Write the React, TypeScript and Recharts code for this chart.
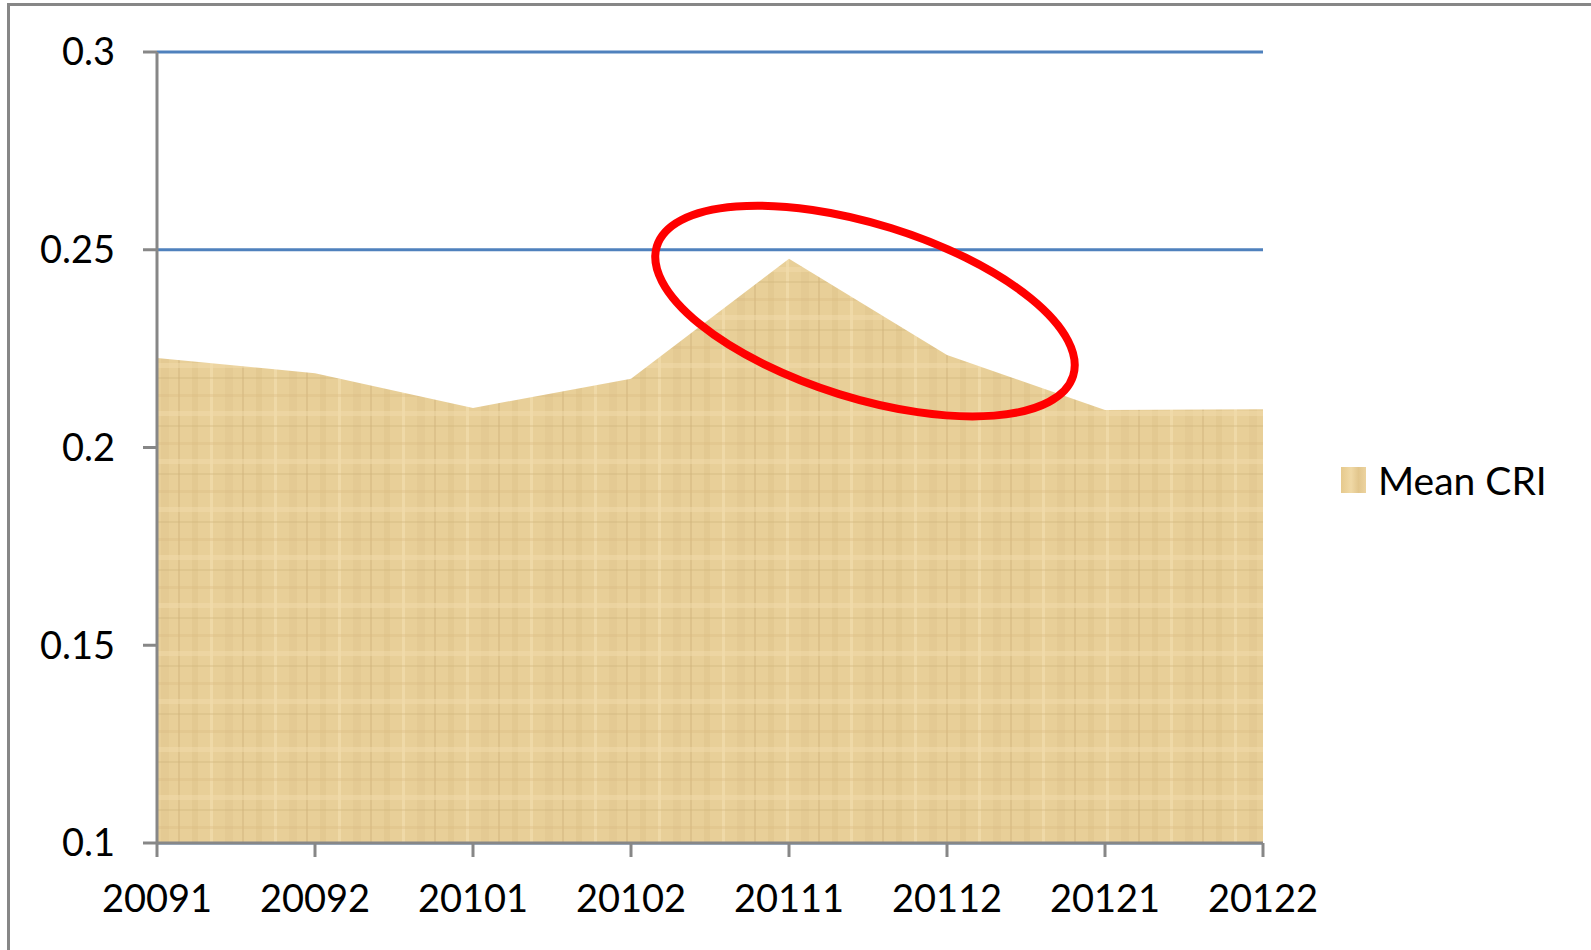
import { AreaChart, Area, XAxis, YAxis, CartesianGrid, ReferenceDot } from 'recharts';

const periods = ['20091', '20092', '20101', '20102', '20111', '20112', '20121', '20122'];
const meanCri = [0.2226, 0.2188, 0.21, 0.2174, 0.2477, 0.2234, 0.2095, 0.2097];
const yTicks = [0.1, 0.15, 0.2, 0.25, 0.3];
const seriesName = 'Mean CRI';

const data = periods.map((period, i) => ({ period, meanCri: meanCri[i] }));

const FONT = 'Lato, "Open Sans", sans-serif';
const AXIS_GRAY = '#878787';
const GRID_BLUE = '#4F81BD';
const PAPYRUS = '#E8CF98';

// highlight ring around the peak, anchored on the 20111 period
function HighlightEllipse(props: { cx?: number; cy?: number }) {
  const { cx = 0, cy = 0 } = props;
  const ex = cx + 76;
  return (
    <ellipse
      cx={ex}
      cy={cy}
      rx={218}
      ry={87}
      transform={`rotate(17.3 ${ex} ${cy})`}
      fill="none"
      stroke="#FF0000"
      strokeWidth={8}
    />
  );
}

export default function App() {
  return (
    <div
      style={{
        position: 'absolute',
        left: 0,
        top: 0,
        width: 1591,
        height: 950,
        overflow: 'hidden',
        background: '#fff',
      }}
    >
      {/* chart frame, only the top and left edges fall inside the picture */}
      <div
        style={{
          position: 'absolute',
          left: 7,
          top: 3,
          width: 1584,
          height: 947,
          borderLeft: `3px solid ${AXIS_GRAY}`,
          borderTop: `3px solid ${AXIS_GRAY}`,
          boxSizing: 'border-box',
        }}
      />
      <div style={{ position: 'absolute', left: 0, top: 0 }}>
        <AreaChart width={1591} height={950} data={data} margin={{ top: 52, right: 328, left: 0, bottom: 0 }}>
          <defs>
            <pattern id="papyrus" width="64" height="48" patternUnits="userSpaceOnUse">
              <rect width="64" height="48" fill={PAPYRUS} />
              <rect x="0" y="0" width="6" height="48" fill="#d9bd82" opacity="0.35" />
              <rect x="18" y="0" width="3" height="48" fill="#f3dfb0" opacity="0.6" />
              <rect x="33" y="0" width="8" height="48" fill="#dcc08a" opacity="0.3" />
              <rect x="50" y="0" width="2" height="48" fill="#cdb078" opacity="0.4" />
              <rect x="0" y="10" width="64" height="3" fill="#d8bb80" opacity="0.35" />
              <rect x="0" y="27" width="64" height="5" fill="#f1dcab" opacity="0.5" />
              <rect x="0" y="41" width="64" height="2" fill="#cfb47c" opacity="0.35" />
            </pattern>
          </defs>
          <CartesianGrid horizontal vertical={false} stroke={GRID_BLUE} strokeWidth={3} />
          <XAxis
            dataKey="period"
            height={107}
            stroke={AXIS_GRAY}
            strokeWidth={3}
            tickSize={14}
            tickMargin={28}
            tick={{ fontSize: 38, fill: '#000', fontFamily: FONT }}
            interval={0}
          />
          <YAxis
            width={157}
            domain={[0.1, 0.3]}
            ticks={yTicks}
            stroke={AXIS_GRAY}
            strokeWidth={3}
            tickSize={14}
            tickMargin={28}
            tick={{ fontSize: 38, fill: '#000', fontFamily: FONT }}
            allowDataOverflow
          />
          <Area
            type="linear"
            dataKey="meanCri"
            name={seriesName}
            stroke="none"
            fill="url(#papyrus)"
            fillOpacity={1}
            isAnimationActive={false}
          />
          <ReferenceDot x="20111" y={0.2345} r={1} shape={HighlightEllipse} />
        </AreaChart>
      </div>
      {/* legend kept outside the chart so it does not shrink the plot area */}
      <div
        style={{
          position: 'absolute',
          left: 1341,
          top: 457,
          display: 'flex',
          alignItems: 'center',
          fontFamily: FONT,
          fontSize: 39,
          color: '#000',
        }}
      >
        <span
          style={{
            display: 'inline-block',
            width: 25,
            height: 26,
            background: 'linear-gradient(90deg, #e6c98c, #f0d9a6 40%, #e2c68d 70%, #ecd39f)',
            marginRight: 12,
          }}
        />
        <span>{seriesName}</span>
      </div>
    </div>
  );
}
